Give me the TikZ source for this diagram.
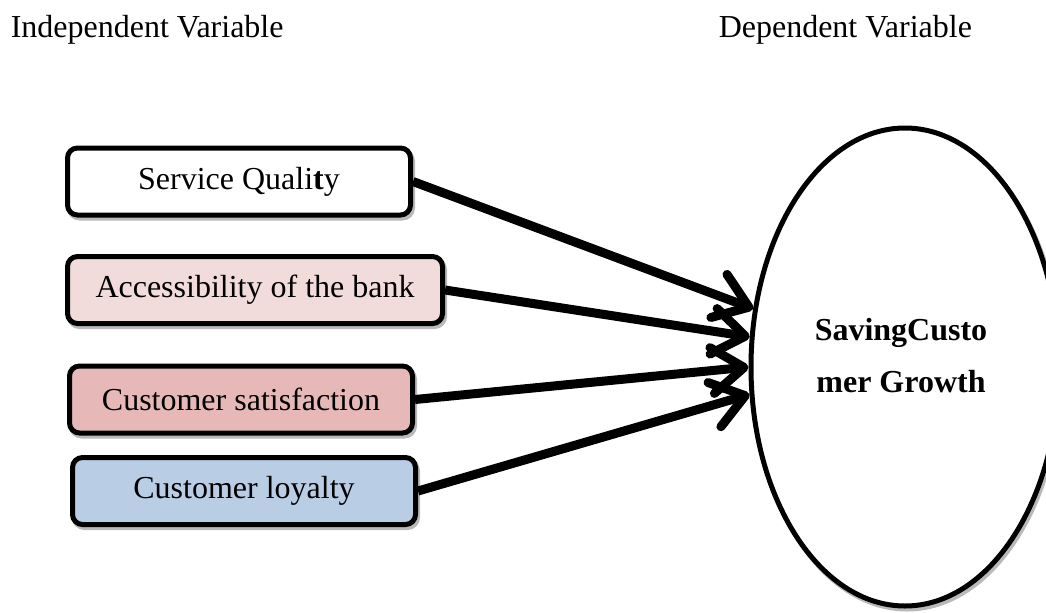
\documentclass[tikz,border=0pt]{standalone}
\usepackage{fontspec}
\setmainfont{Liberation Serif}
\usepackage{tikz}
\usetikzlibrary{arrows.meta,shapes.geometric,positioning}
\definecolor{boxpink}{HTML}{F2DCDB}
\definecolor{boxrose}{HTML}{E6B9B8}
\definecolor{boxblue}{HTML}{B9CDE5}
\tikzset{every picture/.style={line width=0.75pt},
  every node/.style={font=\fontsize{16}{26}\selectfont},
  shadowed/.style={preaction={draw=gray!55, transform canvas={shift={(1pt,-1.5pt)}}}},
  varbox/.style={draw, line width=2.5pt, rounded corners=5pt, minimum width=171.5pt,
    minimum height=33.5pt, inner xsep=14pt, anchor=west, fill=white, shadowed},
  outcome/.style={ellipse, draw, line width=2.5pt, fill=white, minimum width=154pt,
    minimum height=239pt, shadowed},
  outcome text/.style={align=center, font=\fontsize{16}{26}\selectfont\bfseries},
  link/.style={line width=4.5pt, -{Straight Barb[length=16pt,width=23pt,round]}, shadowed}}

\begin{document}
\begin{tikzpicture}[x=0.5pt,y=-0.5pt]
    \useasboundingbox (0,0) rectangle (1046,612);

    % 标题
    \node[anchor=base west, inner sep=0pt] (indep) at (10,37) {Independent Variable};
    \node[anchor=base west, inner sep=0pt] (dep) at (718,37) {Dependent Variable};

    % 自变量方框
    \node[varbox] (quality) at (65,181.5) {Service Quali\textbf{t}y};
    \node[varbox, fill=boxpink] (access) at (65,290) {Accessibility of the bank};
    \node[varbox, fill=boxrose] (satisf) at (67,399.5) {Customer satisfaction};
    \node[varbox, fill=boxblue] (loyal) at (70,491) {Customer loyalty};

    % 因变量椭圆
    \node[outcome] (growth) at (905,367) {};
    \node[outcome text] (growthlabel) at ([xshift=-2pt,yshift=5.5pt]growth.center) {SavingCusto\\mer Growth};

    % 箭头
    \draw[link] (quality.east) -- (growth.159);
    \draw[link] (access.east) -- (growth.169);
    \draw[link] (satisf.east) -- (growth.180);
    \draw[link] (loyal.east) -- (growth.190);
\end{tikzpicture}
\end{document}
